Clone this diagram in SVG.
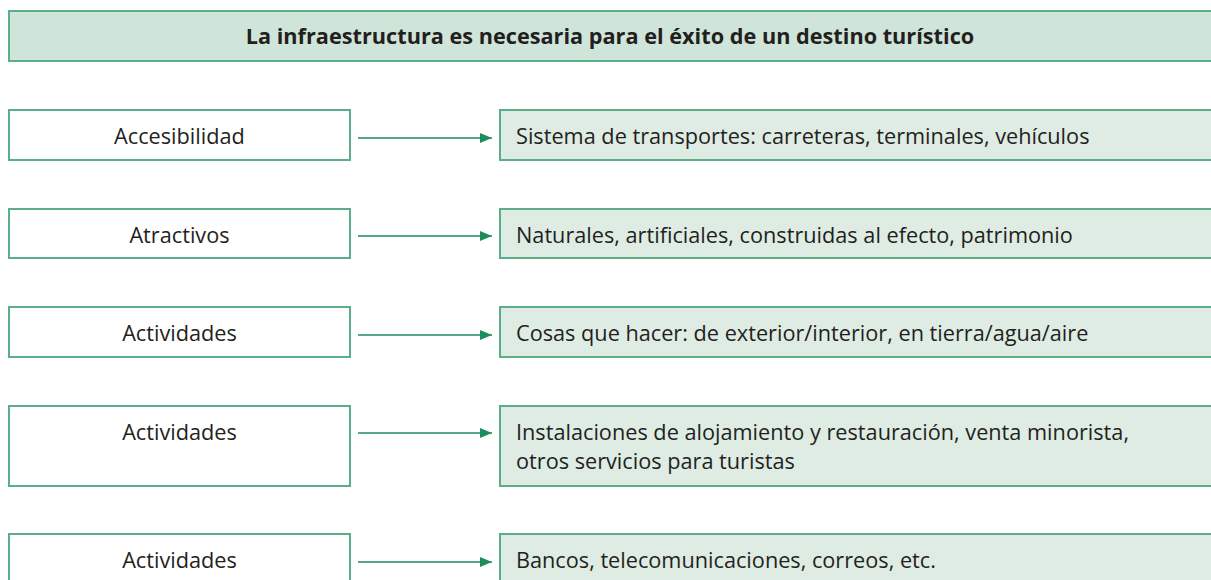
<svg xmlns="http://www.w3.org/2000/svg" width="1211" height="580" viewBox="0 0 1211 580">
<style>
.hdr{fill:#d0e5d9;stroke:#5cae88;stroke-width:2}
.lb{fill:#ffffff;stroke:#5cae88;stroke-width:2}
.rb{fill:#deece4;stroke:#5cae88;stroke-width:2}
text{font-family:"Open Sans","Noto Sans",sans-serif;font-size:21.7px;fill:#231f20}
.t{font-weight:bold;text-anchor:middle}
.c{text-anchor:middle}
.conn line{stroke:#1f8c5c;stroke-width:1.6}
</style>
<defs>
<marker id="ah" markerWidth="12" markerHeight="10" refX="12" refY="5" orient="auto" markerUnits="userSpaceOnUse">
<path d="M0,0 L12,5 L0,10 Z" fill="#1f8c5c"/>
</marker>
</defs>
<rect width="1211" height="580" fill="#ffffff"/>
<g id="header">
<rect class="hdr" x="9" y="11" width="1212" height="50"/>
<text class="t" x="610" y="44">La infraestructura es necesaria para el éxito de un destino turístico</text>
</g>
<g id="n1"><rect class="lb" x="9" y="110" width="341" height="50"/><text class="c" x="179.5" y="144">Accesibilidad</text></g>
<g id="r1"><rect class="rb" x="500" y="110" width="721" height="50"/><text x="516" y="144">Sistema de transportes: carreteras, terminales, vehículos</text></g>
<g id="n2"><rect class="lb" x="9" y="209" width="341" height="49"/><text class="c" x="179.5" y="243">Atractivos</text></g>
<g id="r2"><rect class="rb" x="500" y="209" width="721" height="49"/><text x="516" y="243">Naturales, artificiales, construidas al efecto, patrimonio</text></g>
<g id="n3"><rect class="lb" x="9" y="307" width="341" height="50"/><text class="c" x="179.5" y="341">Actividades</text></g>
<g id="r3"><rect class="rb" x="500" y="307" width="721" height="50"/><text x="516" y="341">Cosas que hacer: de exterior/interior, en tierra/agua/aire</text></g>
<g id="n4"><rect class="lb" x="9" y="406" width="341" height="80"/><text class="c" x="179.5" y="440">Actividades</text></g>
<g id="r4"><rect class="rb" x="500" y="406" width="721" height="80"/><text x="516" y="440">Instalaciones de alojamiento y restauración, venta minorista,</text><text x="516" y="469">otros servicios para turistas</text></g>
<g id="n5"><rect class="lb" x="9" y="534" width="341" height="60"/><text class="c" x="179.5" y="568">Actividades</text></g>
<g id="r5"><rect class="rb" x="500" y="534" width="721" height="60"/><text x="516" y="568">Bancos, telecomunicaciones, correos, etc.</text></g>
<g id="connectors" class="conn">
<line x1="358" y1="138" x2="492" y2="138" marker-end="url(#ah)"/>
<line x1="358" y1="236" x2="492" y2="236" marker-end="url(#ah)"/>
<line x1="358" y1="335" x2="492" y2="335" marker-end="url(#ah)"/>
<line x1="358" y1="433" x2="492" y2="433" marker-end="url(#ah)"/>
<line x1="358" y1="562" x2="492" y2="562" marker-end="url(#ah)"/>
</g>
</svg>
